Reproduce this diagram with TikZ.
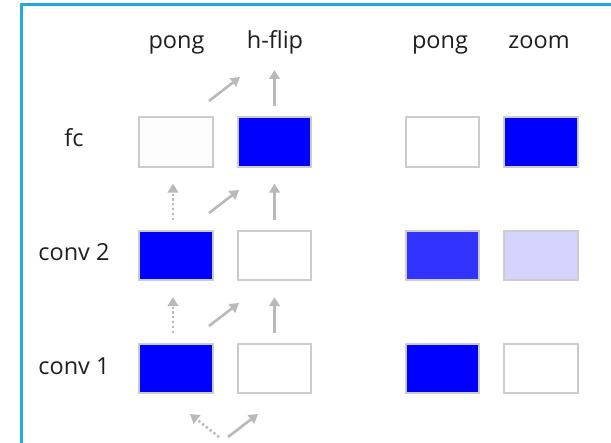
\documentclass[tikz,border=0pt]{standalone}
\usepackage{fontspec}
\setmainfont{Open Sans}
\usetikzlibrary{arrows.meta}
\definecolor{framec}{RGB}{30,170,225}
\definecolor{boxline}{RGB}{204,204,204}
\definecolor{arrc}{RGB}{185,185,185}
\definecolor{txt}{RGB}{30,30,30}
\definecolor{mblue}{RGB}{0,0,255}
\definecolor{midblue}{RGB}{51,51,255}
\definecolor{paleblue}{RGB}{212,212,255}
\definecolor{offwhite}{RGB}{253,253,253}
\tikzset{
  cell/.style={draw=boxline, line width=1.8pt, minimum width=73.5pt, minimum height=49.5pt, inner sep=0pt},
  lbl/.style={text=txt, font=\fontsize{23.5}{28}\selectfont, anchor=base, inner sep=0pt},
  arr/.style={draw=arrc, line width=2.6pt, -{Triangle[length=9pt,width=10.5pt]}},
  darr/.style={arr, dash pattern=on 2.2pt off 2.6pt},
}
\begin{document}
\begin{tikzpicture}[x=1pt,y=-1pt]
\useasboundingbox (0,0) rectangle (611,443);
% frame
\draw[framec, line width=2.6pt] (21.5,460) -- (21.5,4.6) -- (640,4.6);
% column labels
\node[lbl] (tp1) at (176.5,49) {pong};
\node[lbl] (th) at (275,49) {h-flip};
\node[lbl] (tp2) at (440,49) {pong};
\node[lbl] (tz) at (539,49) {zoom};
% row labels
\node[lbl] (rfc) at (74,147) {fc};
\node[lbl] (rc2) at (74,261) {conv 2};
\node[lbl] (rc1) at (74,375) {conv 1};
% boxes
\node[cell, fill=offwhite] (fa) at (176,142) {};
\node[cell, fill=mblue] (fb) at (274.5,142) {};
\node[cell, fill=white] (fc) at (442.5,142) {};
\node[cell, fill=mblue] (fd) at (541,142) {};
\node[cell, fill=mblue] (ba) at (176,255.5) {};
\node[cell, fill=white] (bb) at (274.5,255.5) {};
\node[cell, fill=midblue] (bc) at (442.5,255.5) {};
\node[cell, fill=paleblue] (bd) at (541,255.5) {};
\node[cell, fill=mblue] (aa) at (176,368.5) {};
\node[cell, fill=white] (ab) at (274.5,368.5) {};
\node[cell, fill=mblue] (ac) at (442.5,368.5) {};
\node[cell, fill=white] (ad) at (541,368.5) {};
% free ends
\coordinate (t0) at (274.5,70);
\coordinate (s0) at (209,101);
\coordinate (e0) at (240,77);
\coordinate (s1) at (209,213);
\coordinate (e1) at (239,190);
\coordinate (s2) at (209,326);
\coordinate (e2) at (239,303);
\coordinate (q1) at (219,437);
\coordinate (q2) at (190,414);
\coordinate (q3) at (228,437);
\coordinate (q4) at (258,414);
% arrows above fc
\draw[arr, shorten <=10pt] (fb.north) -- (t0);
\draw[arr] (s0) -- (e0);
% conv2 -> fc
\draw[darr, shorten <=10pt, shorten >=16pt] ([xshift=-3pt]ba.north) -- ([xshift=-3pt]fa.south);
\draw[arr] (s1) -- (e1);
\draw[arr, shorten <=10pt, shorten >=16pt] (bb.north) -- (fb.south);
% conv1 -> conv2
\draw[darr, shorten <=10pt, shorten >=16pt] ([xshift=-3pt]aa.north) -- ([xshift=-3pt]ba.south);
\draw[arr] (s2) -- (e2);
\draw[arr, shorten <=10pt, shorten >=16pt] (ab.north) -- (bb.south);
% bottom
\draw[darr] (q1) -- (q2);
\draw[arr] (q3) -- (q4);
\end{tikzpicture}
\end{document}
